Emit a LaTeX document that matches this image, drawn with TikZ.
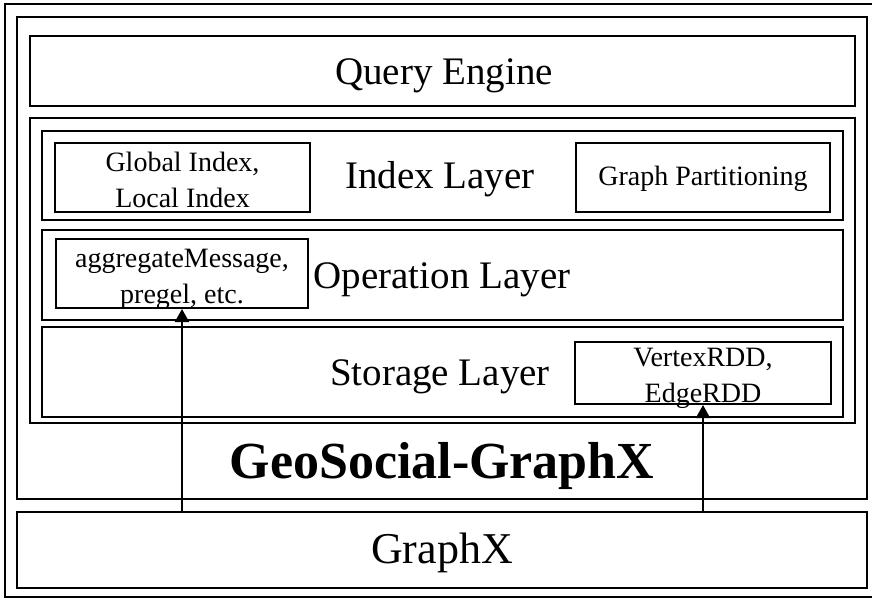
\documentclass[tikz,border=0pt]{standalone}
\usepackage{fontspec}
\setmainfont{Liberation Serif}
\usetikzlibrary{arrows.meta}

\begin{document}
\begin{tikzpicture}[x=1pt,y=-1pt]
    \tikzset{box/.style={draw, line width=2pt, shape=rectangle, inner sep=0pt},
             boxtext/.style={align=center, inner sep=0pt, font=\fontsize{28}{36}\selectfont},
             layertext/.style={anchor=base, inner sep=0pt, font=\fontsize{39}{41}\selectfont},
             feed/.style={draw, line width=2pt, -{Triangle[width=14pt,length=13pt]}}}
    \useasboundingbox (0,0) rectangle (872,599);

    \draw (442,300.5) node (frame) [draw, line width=1.2pt, minimum width=874, minimum height=593] {};

    \draw (442,258) node (geo) [box, minimum width=850, minimum height=482] {};
    \draw (442.5,71) node (query) [box, minimum width=825, minimum height=70] {};
    \draw (442.5,270.5) node (layers) [box, minimum width=825, minimum height=305] {};
    \draw (442.5,175.5) node (index) [box, minimum width=801, minimum height=89] {};
    \draw (442.5,275) node (operation) [box, minimum width=801, minimum height=90] {};
    \draw (442.5,372) node (storage) [box, minimum width=801, minimum height=90] {};
    \draw (442,550) node (graphx) [box, minimum width=850, minimum height=76] {};

    \draw (182.5,177.5) node (globalidx) [box, minimum width=255, minimum height=69] {};
    \draw (703,177.5) node (partition) [box, minimum width=254, minimum height=69] {};
    \draw (182,273.5) node (aggmsg) [box, minimum width=252, minimum height=69] {};
    \draw (703,373) node (rdd) [box, minimum width=256, minimum height=62] {};

    \draw (182.5,179.5) node (globalidx text) [boxtext] {Global Index,\\Local Index};
    \draw (703,179) node (partition text) [boxtext] {Graph Partitioning};
    \draw (182,279) node (aggmsg text) [boxtext] {aggregateMessage,\\pregel, etc.};
    \draw (703,378) node (rdd text) [boxtext] {VertexRDD,\\EdgeRDD};

    \draw (444,85) node (query text) [layertext] {Query Engine};
    \draw (440,188) node (index text) [layertext] {Index Layer};
    \draw (442,288) node (operation text) [layertext] {Operation Layer};
    \draw (440,385) node (storage text) [layertext] {Storage Layer};
    \draw (442,478) node (geo text) [layertext, font=\fontsize{52}{54}\selectfont\bfseries] {GeoSocial-GraphX};
    \draw (442,563) node (graphx text) [layertext, font=\fontsize{44}{46}\selectfont] {GraphX};

    \path[feed] (graphx.north -| aggmsg) -- (aggmsg.south);
    \path[feed] (graphx.north -| rdd) -- (rdd.south);
\end{tikzpicture}
\end{document}
